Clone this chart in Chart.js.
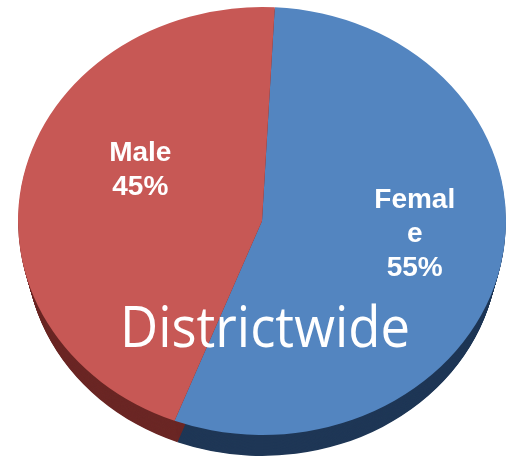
<!DOCTYPE html>
<html>
<head>
<meta charset="utf-8">
<script src="https://cdn.jsdelivr.net/npm/chart.js@4/dist/chart.umd.min.js"></script>
<style>
    html, body {
        margin: 0;
        padding: 0;
        background: #ffffff;
    }

    #pieChart {
        display: block;
    }
</style>
</head>
<body>
<canvas id="pieChart" width="506" height="458"></canvas>

<script>

// ======================================================
// Data
// ======================================================

const categories = ["Female", "Male"];

const shares = [55, 45];

const labelLines = [
    ["Femal", "e", "55%"],
    ["Male", "45%"]
];

const chartTitle = "Districtwide";

// ======================================================
// Look
// ======================================================

const topColors = ["#5385c0", "#c75855"];

const sideColors = ["#1f3756", "#6b2725"];

// tilted pie: ellipse centre, radii, rim depth and
// how much the bottom face shrinks (fake perspective)
const tilt = {
    cx: 262,
    cy: 221,
    rx: 244,
    ry: 214,
    depth: 28,
    shrink: 8
};

// label placement along each slice's middle angle
const labelPlace = [
    { frac: 0.64, lift: 15 },
    { frac: 0.51, lift: 28 }
];

// ======================================================
// Plugin: 3D tilt + labels
// ======================================================

const tiltPlugin = {

    id: "tilt",

    beforeDatasetsDraw(chart) {

        const ctx = chart.ctx;
        const arcs = chart.getDatasetMeta(0).data;
        const { x, y, outerRadius } = arcs[0];

        const sx = tilt.rx / outerRadius;
        const sy = tilt.ry / outerRadius;

        ctx.save();
        ctx.translate(tilt.cx, tilt.cy);
        ctx.scale(sx, sy);
        ctx.translate(-x, -y);

        // rim, stacked copies of each slice pushed down
        arcs.forEach((arc, i) => {

            ctx.fillStyle = sideColors[i];

            for (let d = tilt.depth; d > 0; d--) {

                const oy = y + d / sy;
                const r = outerRadius * (1 - tilt.shrink * d / tilt.depth / tilt.rx);

                ctx.beginPath();
                ctx.moveTo(x, oy);
                ctx.arc(x, oy, r, arc.startAngle, arc.endAngle);
                ctx.closePath();
                ctx.fill();
            }
        });
    },

    afterDatasetsDraw(chart) {

        chart.ctx.restore();
    },

    afterDraw(chart) {

        const ctx = chart.ctx;
        const arcs = chart.getDatasetMeta(0).data;

        ctx.save();
        ctx.fillStyle = "#ffffff";
        ctx.textAlign = "center";
        ctx.textBaseline = "middle";
        ctx.font = "bold 28px 'Liberation Sans', Arial, sans-serif";

        arcs.forEach((arc, i) => {

            const mid = (arc.startAngle + arc.endAngle) / 2;
            const place = labelPlace[i];

            const lx = tilt.cx + Math.cos(mid) * place.frac * tilt.rx;
            const ly = tilt.cy + Math.sin(mid) * place.frac * tilt.ry - place.lift;

            const lines = labelLines[i];
            const lineHeight = 34;
            const top = ly - (lines.length - 1) * lineHeight / 2;

            lines.forEach((line, j) => {
                ctx.fillText(line, lx, top + j * lineHeight);
            });
        });

        // big overlay title, squeezed to the reference width
        ctx.font = "56px 'Open Sans', 'Noto Sans', sans-serif";
        ctx.textBaseline = "alphabetic";

        const w = ctx.measureText(chartTitle).width;
        const targetWidth = 290;

        ctx.translate(265, 347);
        ctx.scale(targetWidth / w, 1);
        ctx.fillText(chartTitle, 0, 0);

        ctx.restore();
    }
};

// ======================================================
// Chart
// ======================================================

new Chart(
    document.getElementById("pieChart"),
    {
        type: "pie",

        data: {
            labels: categories,
            datasets: [{
                data: shares,
                backgroundColor: topColors,
                borderWidth: 0,
                clip: false
            }]
        },

        options: {
            responsive: false,
            animation: false,
            rotation: 3,
            layout: {
                padding: 0
            },
            plugins: {
                legend: {
                    display: false
                },
                tooltip: {
                    enabled: false
                }
            }
        },

        plugins: [tiltPlugin]
    }
);

</script>
</body>
</html>
